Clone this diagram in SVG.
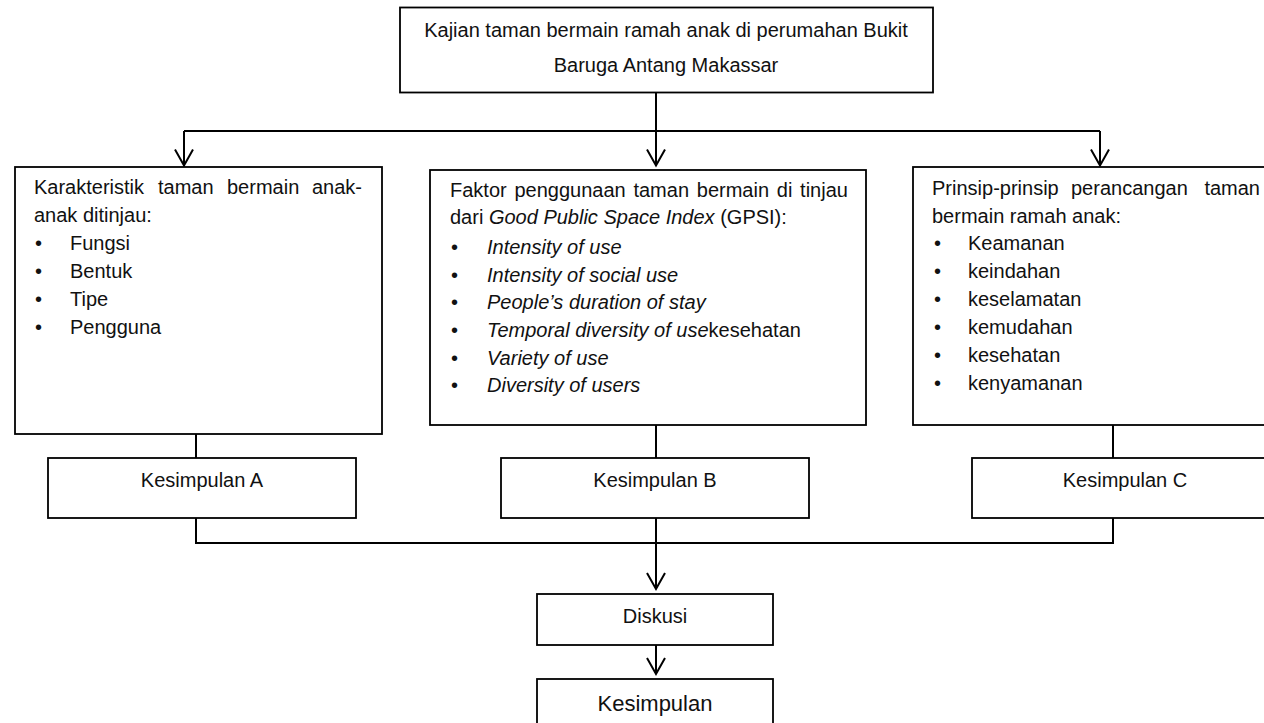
<svg xmlns="http://www.w3.org/2000/svg" width="1264" height="723" viewBox="0 0 1264 723">
<style>
.box{fill:#fff;stroke:#000;stroke-width:1.8}
.ln{fill:none;stroke:#000;stroke-width:2}
text{font-family:"Liberation Sans",Arial,sans-serif;font-size:20px;fill:#111}
.c{text-anchor:middle}
.i{font-style:italic}
</style>
<defs>
<marker id="arr" markerUnits="userSpaceOnUse" markerWidth="22" markerHeight="22" refX="17" refY="10" orient="auto" overflow="visible">
<path d="M1,1 L17,10 L1,19" fill="none" stroke="#000" stroke-width="2"/>
</marker>
</defs>
<rect width="1264" height="723" fill="#fff"/>
<g id="connectors">
<path class="ln" d="M656,93 V165.5" marker-end="url(#arr)"/>
<path class="ln" d="M184,131 H1100"/>
<path class="ln" d="M184,131 V165.5" marker-end="url(#arr)"/>
<path class="ln" d="M1100,131 V165.5" marker-end="url(#arr)"/>
<path class="ln" d="M196,434 V458"/>
<path class="ln" d="M656,425 V458"/>
<path class="ln" d="M1113,425 V458"/>
<path class="ln" d="M196,518 V543 H1113 V518"/>
<path class="ln" d="M656,518 V589" marker-end="url(#arr)"/>
<path class="ln" d="M656,645 V674" marker-end="url(#arr)"/>
</g>
<g id="top">
<rect class="box" x="400" y="7.5" width="533" height="85"/>
<text class="c" x="666" y="37">Kajian taman bermain ramah anak di perumahan Bukit</text>
<text class="c" x="666" y="72">Baruga Antang Makassar</text>
</g>
<g id="karakteristik">
<rect class="box" x="15" y="167" width="367" height="267"/>
<text x="34" y="194"><tspan>Karakteristik</tspan><tspan x="158">taman</tspan><tspan x="227">bermain</tspan><tspan x="362" text-anchor="end">anak-</tspan></text>
<text x="34" y="222">anak ditinjau:</text>
<text x="35" y="250">•</text><text x="70" y="250">Fungsi</text>
<text x="35" y="278">•</text><text x="70" y="278">Bentuk</text>
<text x="35" y="306">•</text><text x="70" y="306">Tipe</text>
<text x="35" y="334">•</text><text x="70" y="334">Pengguna</text>
</g>
<g id="gpsi">
<rect class="box" x="430" y="170" width="436" height="255"/>
<text x="450" y="197" word-spacing="2.2">Faktor penggunaan taman bermain di tinjau</text>
<text x="450" y="224">dari <tspan class="i">Good Public Space Index</tspan> (GPSI):</text>
<text x="451" y="254">•</text><text class="i" x="487" y="254">Intensity of use</text>
<text x="451" y="282">•</text><text class="i" x="487" y="282">Intensity of social use</text>
<text x="451" y="309">•</text><text class="i" x="487" y="309">People’s duration of stay</text>
<text x="451" y="337">•</text><text x="487" y="337"><tspan class="i">Temporal diversity of use</tspan>kesehatan</text>
<text x="451" y="365">•</text><text class="i" x="487" y="365">Variety of use</text>
<text x="451" y="392">•</text><text class="i" x="487" y="392">Diversity of users</text>
</g>
<g id="prinsip">
<rect class="box" x="913" y="167" width="400" height="258"/>
<text x="932" y="195"><tspan>Prinsip-prinsip</tspan><tspan x="1071">perancangan</tspan><tspan x="1260" text-anchor="end">taman</tspan></text>
<text x="932" y="223">bermain ramah anak:</text>
<text x="934" y="250">•</text><text x="968" y="250">Keamanan</text>
<text x="934" y="278">•</text><text x="968" y="278">keindahan</text>
<text x="934" y="306">•</text><text x="968" y="306">keselamatan</text>
<text x="934" y="334">•</text><text x="968" y="334">kemudahan</text>
<text x="934" y="362">•</text><text x="968" y="362">kesehatan</text>
<text x="934" y="390">•</text><text x="968" y="390">kenyamanan</text>
</g>
<g id="kesA">
<rect class="box" x="48" y="458" width="308" height="60"/>
<text class="c" x="202" y="487">Kesimpulan A</text>
</g>
<g id="kesB">
<rect class="box" x="501" y="458" width="308" height="60"/>
<text class="c" x="655" y="487">Kesimpulan B</text>
</g>
<g id="kesC">
<rect class="box" x="972" y="458" width="308" height="60"/>
<text class="c" x="1125" y="487">Kesimpulan C</text>
</g>
<g id="diskusi">
<rect class="box" x="537" y="594" width="236" height="51"/>
<text class="c" x="655" y="623">Diskusi</text>
</g>
<g id="kesimpulan">
<rect class="box" x="537" y="679" width="236" height="60"/>
<text class="c" x="655" y="711" style="font-size:22px">Kesimpulan</text>
</g>
</svg>
